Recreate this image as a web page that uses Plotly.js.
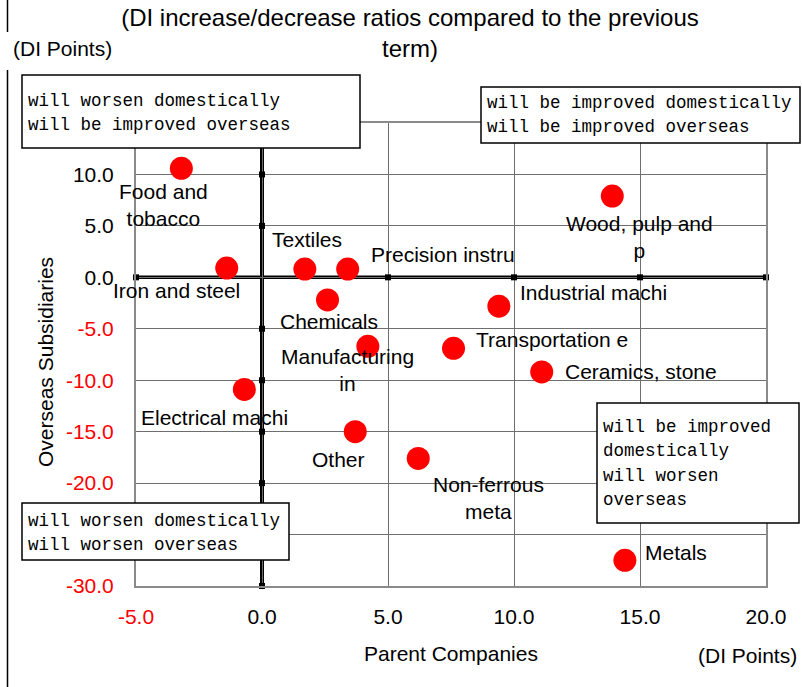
<!DOCTYPE html>
<html>
<head>
<meta charset="utf-8">
<script src="https://cdn.plot.ly/plotly-3.0.1.min.js"></script>
<style>html,body{margin:0;padding:0;background:#fff;}#chart{width:802px;height:687px;}</style>
</head>
<body>
<div id="chart"></div>
<script>
// ---- data ----
const categories = ['Food and<br>tobacco','Iron and steel','Textiles','Precision instru','Chemicals','Manufacturing<br>in','Electrical machi','Other','Industrial machi','Transportation e','Ceramics, stone','Wood, pulp and<br>p','Non-ferrous<br>meta','Metals'];
const parentValues = [-3.2, -1.4, 1.7, 3.4, 2.6, 4.2, -0.7, 3.7, 9.4, 7.6, 11.1, 13.9, 6.2, 14.4];
const overseasValues = [10.6, 0.9, 0.8, 0.8, -2.2, -6.7, -10.9, -15.0, -2.8, -6.9, -9.2, 7.9, -17.6, -27.5];
// label offsets in px (dx right, dy down) relative to each point
const labelDx = [-18, -50, 2, 95, 1, -20, -30, -17, 95, 98, 99, 27, 70, 51];
const labelDy = [37, 22, -30, -15, 22, 24, 28, 28, -14, -9, 0, 41, 40, -8];

const xTickVals = [-5, 0, 5, 10, 15, 20];
const xTickText = ['-5.0','0.0','5.0','10.0','15.0','20.0'];
const yTickVals = [-30, -25, -20, -15, -10, -5, 0, 5, 10, 15];
const yTickText = ['-30.0','','-20.0','-15.0','-10.0','-5.0','0.0','5.0','10.0',''];

const titleText = '(DI increase/decrease ratios compared to the previous<br>term)';
const xTitle = 'Parent Companies';
const yTitle = 'Overseas Subsidiaries';
const unitText = '(DI Points)';

const boxLines = [
  ['will worsen domestically', 'will be improved overseas'],
  ['will be improved domestically', 'will be improved overseas'],
  ['will be improved', 'domestically', 'will worsen', 'overseas'],
  ['will worsen domestically', 'will worsen overseas']
];
// ---- layout helpers ----
const L = 136, R = 766, T = 123, B = 586;
const px = v => (v - L) / (R - L);
const py = v => (B - v) / (B - T);
const boxRects = [[22, 75, 360, 148], [481, 87, 800, 143], [597, 403, 799, 523], [22, 503, 289, 560]];
const boxLineY = [[101, 125], [103, 127], [427, 451, 476, 500], [521, 545]];

const red = '#ff0000';
const colorTick = t => (parseFloat(t) < 0 ? '<span style="color:' + red + '">' + t + '</span>' : t);

const sans = 'Liberation Sans, Arial, sans-serif';
const mono = 'Liberation Mono, DejaVu Sans Mono, monospace';
const FS = 21;

const traces = [];
// zero-line tick squares
const sqX = [], sqY = [];
yTickVals.forEach(v => { if (v !== 0) { sqX.push(0); sqY.push(v); } });
xTickVals.forEach(v => { if (v !== 0) { sqX.push(v); sqY.push(0); } });
traces.push({x: sqX, y: sqY, type: 'scatter', mode: 'markers', hoverinfo: 'skip',
  marker: {symbol: 'square', size: 6, color: '#000'}, showlegend: false, cliponaxis: false});
traces.push({x: parentValues, y: overseasValues, type: 'scatter', mode: 'markers',
  marker: {size: 23, color: red, line: {width: 0}}, showlegend: false, cliponaxis: false, text: categories});

const annotations = [];
categories.forEach((c, i) => {
  annotations.push({x: parentValues[i], y: overseasValues[i], xref: 'x', yref: 'y', text: c, showarrow: false,
    xshift: labelDx[i], yshift: -labelDy[i], xanchor: 'center', yanchor: 'middle',
    font: {family: sans, size: FS, color: '#000'}});
});
annotations.push({xref: 'paper', yref: 'paper', x: px(451), y: py(653), text: xTitle, showarrow: false,
  xanchor: 'center', yanchor: 'middle', font: {family: sans, size: FS, color: '#000'}});
annotations.push({xref: 'paper', yref: 'paper', x: px(45), y: py(362), text: yTitle, showarrow: false, textangle: -90,
  xanchor: 'center', yanchor: 'middle', font: {family: sans, size: FS, color: '#000'}});
annotations.push({xref: 'paper', yref: 'paper', x: px(11), y: py(48), text: unitText, showarrow: false,
  xanchor: 'left', yanchor: 'middle', font: {family: sans, size: FS, color: '#000'}});
annotations.push({xref: 'paper', yref: 'paper', x: px(799), y: py(655), text: unitText, showarrow: false,
  xanchor: 'right', yanchor: 'middle', font: {family: sans, size: FS, color: '#000'}});

const shapes = [];
boxRects.forEach((r, i) => {
  shapes.push({type: 'rect', xref: 'paper', yref: 'paper', x0: px(r[0]), x1: px(r[2]), y0: py(r[3]), y1: py(r[1]),
    line: {color: '#000', width: 1.5}, fillcolor: '#fff', layer: 'above'});
  boxLines[i].forEach((t, j) => {
    annotations.push({xref: 'paper', yref: 'paper', x: px(r[0] + 4), y: py(boxLineY[i][j]), text: t, showarrow: false,
      xanchor: 'left', yanchor: 'middle', font: {family: mono, size: 17.5, color: '#000'}});
  });
});
// left frame line
shapes.push({type: 'line', xref: 'paper', yref: 'paper', x0: px(7.5), x1: px(7.5), y0: py(0), y1: py(32), line: {color: '#000', width: 1.5}});
shapes.push({type: 'line', xref: 'paper', yref: 'paper', x0: px(7.5), x1: px(7.5), y0: py(70), y1: py(687), line: {color: '#000', width: 1.5}});

const layout = {
  width: 802, height: 687,
  margin: {l: L, r: 802 - R, t: T, b: 687 - B, pad: 0},
  paper_bgcolor: '#fff', plot_bgcolor: '#fff',
  title: {text: titleText, font: {family: sans, size: 24, color: '#000'}, x: 410 / 802, xref: 'container', xanchor: 'center',
    y: 1 - 26 / 687, yref: 'container', yanchor: 'middle'},
  xaxis: {range: [-5, 20], tickvals: xTickVals, ticktext: xTickText.map(colorTick), showgrid: true, gridcolor: '#6e6e6e', gridwidth: 1,
    zeroline: false, showline: true, mirror: true, linecolor: '#8a8a8a', linewidth: 2, ticks: '', ticklabelstandoff: 11,
    tickfont: {family: sans, size: FS, color: '#000'}, fixedrange: true},
  yaxis: {range: [-30, 15], tickvals: yTickVals, ticktext: yTickText.map(colorTick), showgrid: true, gridcolor: '#6e6e6e', gridwidth: 1,
    zeroline: false, showline: true, mirror: true, linecolor: '#8a8a8a', linewidth: 2, ticks: '', ticklabelstandoff: 16,
    tickfont: {family: sans, size: FS, color: '#000'}, fixedrange: true},
  shapes: shapes.concat([
    {type: 'line', xref: 'x', yref: 'y', x0: 0, x1: 0, y0: -30, y1: 15, line: {color: '#000', width: 4}, layer: 'below'},
    {type: 'line', xref: 'x', yref: 'y', x0: -5, x1: 20, y0: 0, y1: 0, line: {color: '#000', width: 3.5}, layer: 'below'}
  ]),
  annotations: annotations,
  showlegend: false
};
Plotly.newPlot('chart', traces, layout, {staticPlot: true});
</script>
</body>
</html>
